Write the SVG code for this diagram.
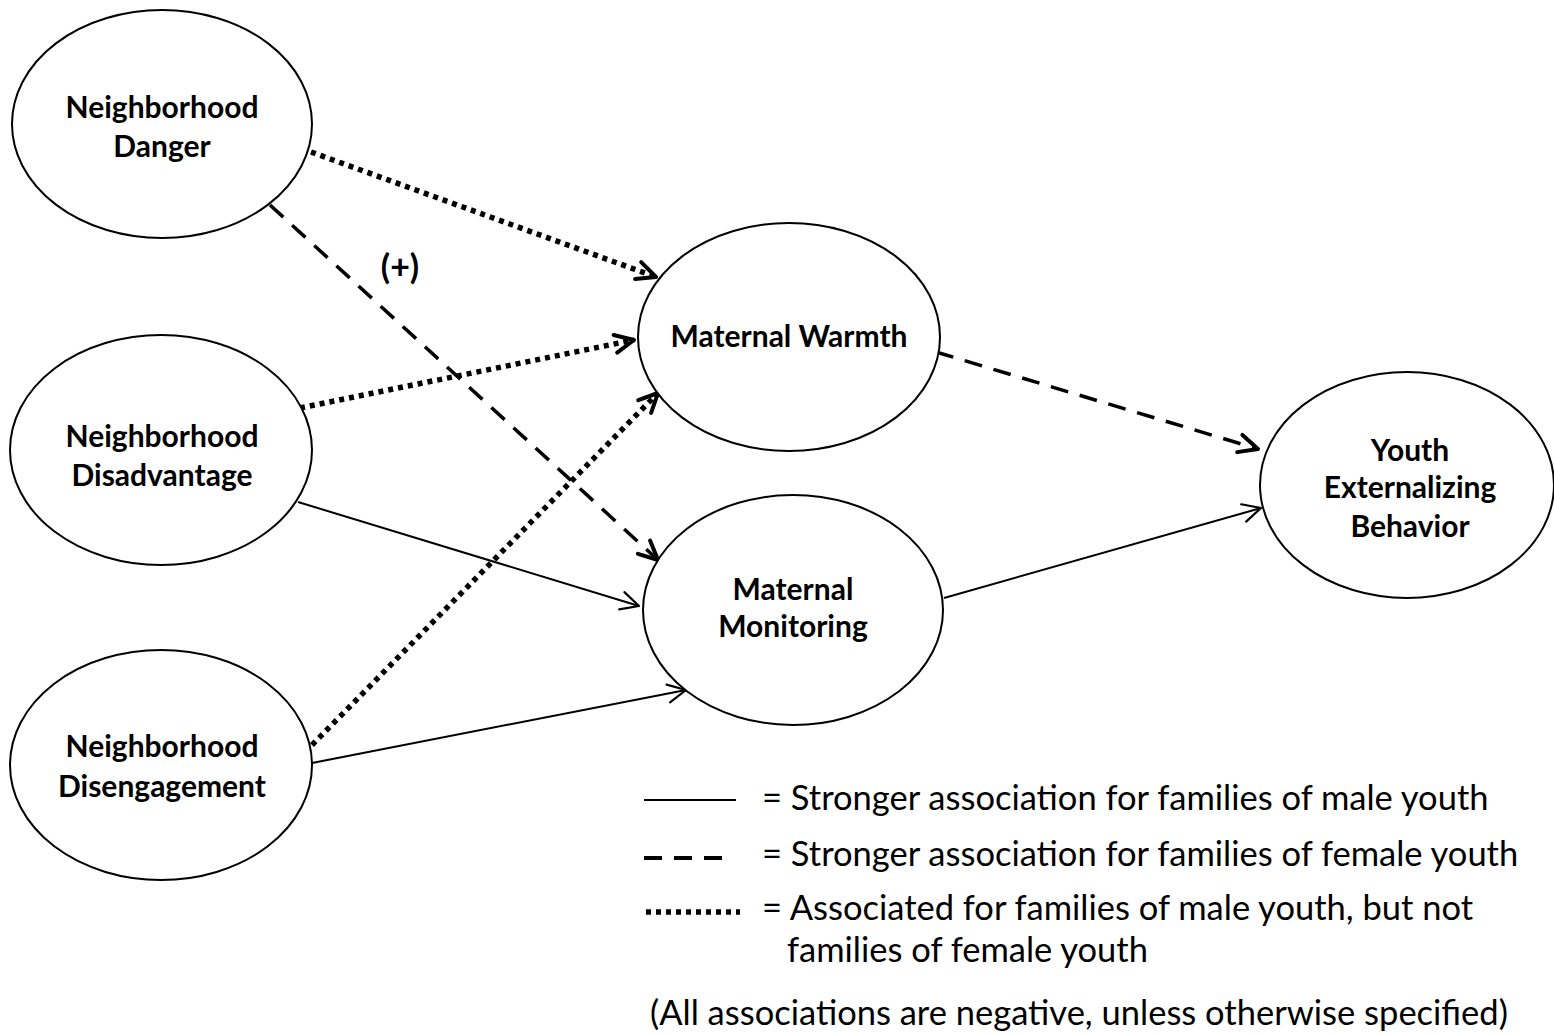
<svg xmlns="http://www.w3.org/2000/svg" width="1554" height="1035" viewBox="0 0 1554 1035">
  <style>
    .node { fill: #fff; stroke: #000; stroke-width: 2; }
    .lbl { font-family: Lato, "Liberation Sans", sans-serif; font-weight: bold; font-size: 30px; fill: #000; text-anchor: middle; }
    .leg { font-family: Lato, "Liberation Sans", sans-serif; font-size: 34.5px; fill: #000; }
    .solid { fill: none; stroke: #000; stroke-width: 2; }
    .dash { fill: none; stroke: #000; stroke-width: 3.5; stroke-dasharray: 18 12; }
    .dot { fill: none; stroke: #000; stroke-width: 5.5; stroke-dasharray: 5 5; }
  </style>
  <defs>
    <marker id="arrThin" markerUnits="userSpaceOnUse" viewBox="-22 -12 26 24" markerWidth="26" markerHeight="24" refX="0" refY="0" orient="auto">
      <path d="M-18,-9 L0,0 L-18,9" fill="none" stroke="#000" stroke-width="2.2" stroke-linecap="round" stroke-linejoin="round"/>
    </marker>
    <marker id="arrThick" markerUnits="userSpaceOnUse" viewBox="-24 -14 30 28" markerWidth="30" markerHeight="28" refX="0" refY="0" orient="auto">
      <path d="M-19,-9 L0,0 L-19,9" fill="none" stroke="#000" stroke-width="4" stroke-linecap="round" stroke-linejoin="round"/>
    </marker>
  </defs>
  <rect width="1554" height="1035" fill="#fff"/>

  <g id="connectors">
    <path class="dot" d="M311,152 L656,277" marker-end="url(#arrThick)"/>
    <path class="dash" d="M270,205 L658,560" marker-end="url(#arrThick)"/>
    <path class="dot" d="M300,408 L634,340" marker-end="url(#arrThick)"/>
    <path class="solid" d="M298,502 L639,606" marker-end="url(#arrThin)"/>
    <path class="dot" d="M312,745 L658,393" marker-end="url(#arrThick)"/>
    <path class="solid" d="M312,763 L686,690" marker-end="url(#arrThin)"/>
    <path class="dash" d="M936,352 L1258,449" marker-end="url(#arrThick)"/>
    <path class="solid" d="M944,598 L1261,508" marker-end="url(#arrThin)"/>
  </g>

  <g id="danger">
    <ellipse class="node" cx="162" cy="124" rx="150" ry="114"/>
    <text class="lbl" x="162" y="118">Neighborhood</text>
    <text class="lbl" x="162" y="157">Danger</text>
  </g>
  <g id="disadvantage">
    <ellipse class="node" cx="161" cy="450" rx="151" ry="115"/>
    <text class="lbl" x="162" y="447">Neighborhood</text>
    <text class="lbl" x="162" y="486">Disadvantage</text>
  </g>
  <g id="disengagement">
    <ellipse class="node" cx="161" cy="765" rx="151" ry="115"/>
    <text class="lbl" x="162" y="757">Neighborhood</text>
    <text class="lbl" x="162" y="797">Disengagement</text>
  </g>
  <g id="warmth">
    <ellipse class="node" cx="789" cy="337" rx="151" ry="114"/>
    <text class="lbl" x="789" y="347">Maternal Warmth</text>
  </g>
  <g id="monitoring">
    <ellipse class="node" cx="793" cy="610" rx="150" ry="115"/>
    <text class="lbl" x="793" y="600">Maternal</text>
    <text class="lbl" x="793" y="637">Monitoring</text>
  </g>
  <g id="youth">
    <ellipse class="node" cx="1407" cy="485" rx="147" ry="113"/>
    <text class="lbl" x="1410" y="461">Youth</text>
    <text class="lbl" x="1410" y="498">Externalizing</text>
    <text class="lbl" x="1410" y="537">Behavior</text>
  </g>

  <text class="lbl" x="400" y="279" style="font-size:34px">(+)</text>

  <g id="legend">
    <line x1="644" y1="800" x2="736" y2="800" stroke="#000" stroke-width="2"/>
    <line x1="644" y1="858" x2="734" y2="858" stroke="#000" stroke-width="4" stroke-dasharray="18 12"/>
    <line x1="646" y1="912" x2="740" y2="912" stroke="#000" stroke-width="5.5" stroke-dasharray="5 5"/>
    <text class="leg" x="762" y="810">= Stronger association for families of male youth</text>
    <text class="leg" x="762" y="866">= Stronger association for families of female youth</text>
    <text class="leg" x="762" y="920">= Associated for families of male youth, but not</text>
    <text class="leg" x="787" y="962">families of female youth</text>
    <text class="leg" x="650" y="1025">(All associations are negative, unless otherwise specified)</text>
  </g>
</svg>
